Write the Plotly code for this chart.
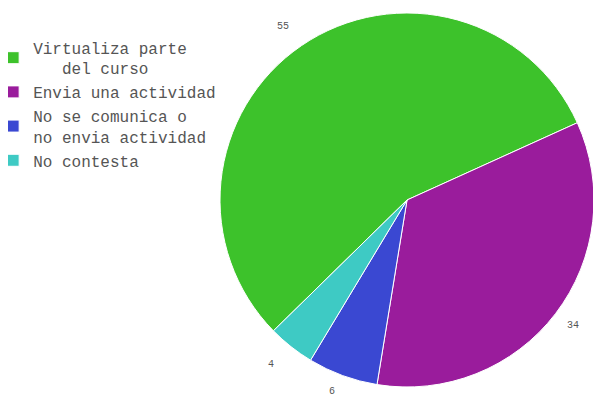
import math
import plotly.graph_objects as go

labels = ["Virtualiza parte<br>\u00a0\u00a0\u00a0del curso", "Envia una actividad",
          "No se comunica o<br>no envia actividad", "No contesta"]
values = [55, 34, 6, 4]
colors = ["#3dc22b", "#9a1c9c", "#3a48d2", "#3ecac4"]

W, H = 601, 407
OFF = 8                      # page body margin of the html page
CX, CY, R = 407 - OFF, 200 - OFF, 187
ROT = 225.6

fig = go.Figure(go.Pie(
    labels=labels, values=values, sort=False, direction="clockwise", rotation=ROT,
    marker=dict(colors=colors, line=dict(color="white", width=1)),
    textinfo="none",
    domain=dict(x=[(CX - R) / W, (CX + R) / W], y=[1 - (CY + R) / H, 1 - (CY - R) / H]),
    hoverinfo="label+value+percent",
))

# value labels outside the slices, placed at each slice's mid angle
total = sum(values)
start = ROT
for v in values:
    span = v / total * 360
    mid = math.radians(start + span / 2)
    rr = R * 1.17
    px = CX + rr * math.sin(mid)
    py = min(CY - rr * math.cos(mid), H - OFF - 8)
    fig.add_annotation(x=px / W, y=1 - py / H, xref="paper", yref="paper",
                       text=str(v), showarrow=False,
                       font=dict(family="Liberation Mono", size=10, color="#555555"))
    start += span

fig.update_layout(
    width=W, height=H, margin=dict(l=0, r=0, t=0, b=0, autoexpand=False),
    paper_bgcolor="white", plot_bgcolor="white",
    legend=dict(x=-0.0247, y=0.945, xanchor="left", yanchor="top",
                font=dict(family="Liberation Mono", size=16, color="#555555"),
                itemwidth=30),
    showlegend=True,
)
fig.write_html("out.html")
